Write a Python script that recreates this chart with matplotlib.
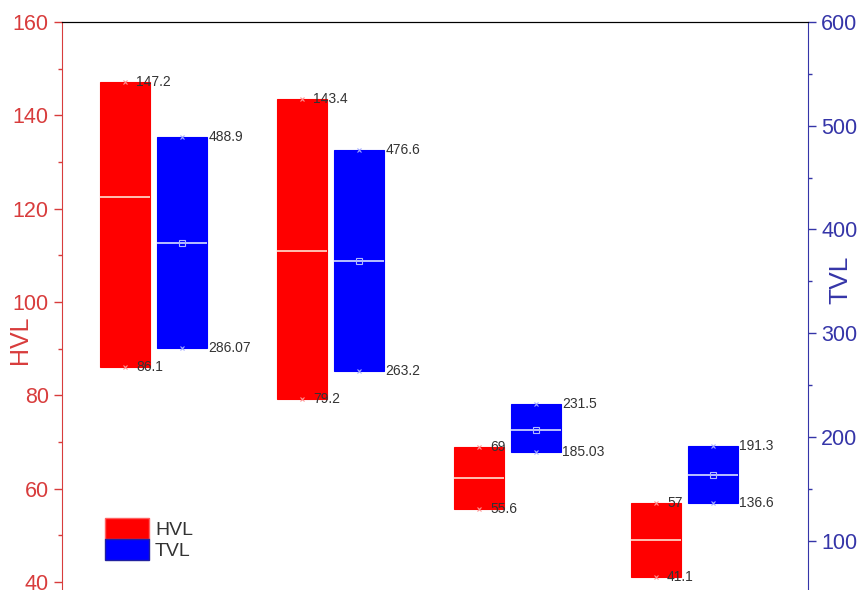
import matplotlib.pyplot as plt
from matplotlib.patches import Patch
import numpy as np

plt.rcParams['font.family'] = ['Liberation Sans', 'DejaVu Sans']

# data
groups = [1, 2, 3, 4]
hvl_high = [147.2, 143.4, 69, 57]
hvl_low = [86.1, 79.2, 55.6, 41.1]
hvl_mid = [122.5, 111.0, 62.3, 49.0]
tvl_high = [488.9, 476.6, 231.5, 191.3]
tvl_low = [286.07, 263.2, 185.03, 136.6]
tvl_mid = [387, 369.5, 206.6, 163]
hvl_high_txt = ['147.2', '143.4', '69', '57']
hvl_low_txt = ['86.1', '79.2', '55.6', '41.1']
tvl_high_txt = ['488.9', '476.6', '231.5', '191.3']
tvl_low_txt = ['286.07', '263.2', '185.03', '136.6']

red = '#ff0000'
blue = '#0000ff'
left_col = '#d83c3c'
right_col = '#3535a8'

fig = plt.figure(figsize=(8.65, 5.9), dpi=100)
ax = fig.add_axes([62 / 865, 0, 746 / 865, 568 / 590])
ax2 = ax.twinx()

x = np.array(groups, dtype=float)
off = 0.161
w = 0.282

# HVL boxes
hx = x - off
ax.bar(hx, np.array(hvl_high) - np.array(hvl_low), bottom=hvl_low, width=w,
       color=red, edgecolor=red, linewidth=0.8, zorder=2)
ax.hlines(hvl_mid, hx - w / 2, hx + w / 2, colors='#ffe0d0', lw=1.2, zorder=3)
ax.plot(hx, hvl_high, 'x', color='#ff9090', ms=3, mew=0.8, zorder=3)
ax.plot(hx, hvl_low, 'x', color='#ff9090', ms=3, mew=0.8, zorder=3)

# TVL boxes
tx = x + off
ax2.bar(tx, np.array(tvl_high) - np.array(tvl_low), bottom=tvl_low, width=w,
        color=blue, edgecolor=blue, linewidth=0.8, zorder=2)
ax2.hlines(tvl_mid, tx - w / 2, tx + w / 2, colors='#d8e0ff', lw=1.2, zorder=3)
ax2.plot(tx, tvl_mid, 's', mfc='none', mec='#b0b8ff', ms=4.5, mew=0.8, zorder=4)
ax2.plot(tx, tvl_high, 'x', color='#a0a8ff', ms=3, mew=0.8, zorder=3)
ax2.plot(tx, tvl_low, 'x', color='#a0a8ff', ms=3, mew=0.8, zorder=3)

# value labels
for i in range(len(groups)):
    ax.text(hx[i] + 0.062, hvl_high[i], hvl_high_txt[i], fontsize=10,
            color='#333333', va='center', ha='left', zorder=5)
    ax.text(hx[i] + 0.062, hvl_low[i], hvl_low_txt[i], fontsize=10,
            color='#333333', va='center', ha='left', zorder=5)
    ax2.text(tx[i] + 0.148, tvl_high[i], tvl_high_txt[i], fontsize=10,
             color='#333333', va='center', ha='left', zorder=5)
    ax2.text(tx[i] + 0.148, tvl_low[i], tvl_low_txt[i], fontsize=10,
             color='#333333', va='center', ha='left', zorder=5)

ax.set_xlim(0.483, 4.698)
ax.set_ylim(38.3, 160)
ax2.set_ylim(52.3, 600)
ax.set_xticks([])

ax.set_yticks([40, 60, 80, 100, 120, 140, 160])
ax.set_yticks(np.arange(50, 160, 20), minor=True)
ax2.set_yticks([100, 200, 300, 400, 500, 600])
ax2.set_yticks(np.arange(150, 600, 100), minor=True)

ax.tick_params(axis='y', which='major', colors=left_col, labelsize=15.5,
               length=6, width=1, direction='out')
ax.tick_params(axis='y', which='minor', colors=left_col, length=3, width=1)
ax2.tick_params(axis='y', which='major', colors=right_col, labelsize=15.5,
                length=6, width=1, direction='out')
ax2.tick_params(axis='y', which='minor', colors=right_col, length=3, width=1)

for a in (ax, ax2):
    a.spines['bottom'].set_visible(False)
    a.spines['top'].set_color('black')
ax.spines['left'].set_color(left_col)
ax.spines['right'].set_visible(False)
ax2.spines['left'].set_visible(False)
ax2.spines['right'].set_color(right_col)

ax.set_ylabel('HVL', color=left_col, fontsize=18)
ax.yaxis.set_label_coords(-0.040, 0.44)
ax2.set_ylabel('TVL', color=right_col, fontsize=19)
ax2.yaxis.set_label_coords(1.027, 0.546)

handles = [Patch(facecolor=red, edgecolor='#ff6060', label='HVL'),
           Patch(facecolor=blue, edgecolor='#2020a0', label='TVL')]
ax2.legend(handles=handles, loc='upper left', bbox_to_anchor=(0.057, 0.127),
           frameon=False, fontsize=14, handlelength=2.3, handleheight=1.3,
           labelspacing=0.0, handletextpad=0.3, borderpad=0, borderaxespad=0,
           labelcolor='#333333')

fig.savefig('out.png', dpi=100)
